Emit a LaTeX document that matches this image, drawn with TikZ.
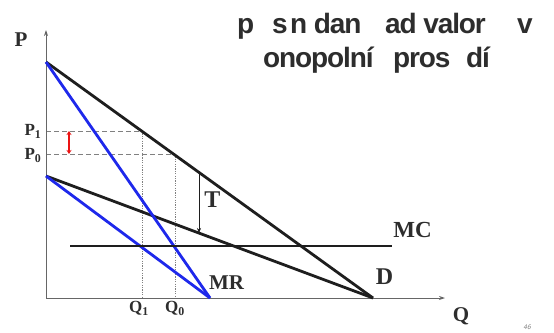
\documentclass[tikz,border=0pt]{standalone}
\usepackage{fontspec}
\setmainfont{Liberation Serif}
\newfontfamily\titlefont[LetterSpace=-4]{Liberation Sans}
\usetikzlibrary{arrows.meta}
\definecolor{lbl}{RGB}{45,45,45}
\definecolor{curve}{RGB}{30,30,30}
\definecolor{bluec}{RGB}{30,40,235}
\definecolor{redc}{RGB}{235,20,20}
\begin{document}
\begin{tikzpicture}[x=1pt,y=-1pt,
  ttl/.style={anchor=base west,inner sep=0pt,text=lbl,font=\titlefont\bfseries\fontsize{28}{30}\selectfont},
  lab/.style={inner sep=0pt,text=lbl,font=\bfseries\fontsize{23}{25}\selectfont},
  sublab/.style={inner sep=0pt,text=lbl,font=\bfseries\fontsize{17}{19}\selectfont},
  thick curve/.style={draw=curve,line width=2.8pt},
  blue curve/.style={draw=bluec,line width=2.8pt},
  axis/.style={draw=gray!80!black,line width=0.9pt,-{Stealth[length=6pt,width=4pt]}},
  guide/.style={draw=gray,line width=0.7pt,dash pattern=on 5pt off 3pt},
  vguide/.style={draw=gray,line width=0.7pt,dash pattern=on 1.2pt off 1.2pt}]
\useasboundingbox (0,0) rectangle (554,332);
% coordinates
\coordinate (O) at (46,298);
\coordinate (Ytop) at (46,30);
\coordinate (Xend) at (445,298);
\coordinate (A) at (46,62);
\coordinate (B) at (46,176);
\coordinate (Dend) at (373,298);
\coordinate (MRend) at (210,298);
\coordinate (MCa) at (70,246);
\coordinate (MCb) at (392,246);
\coordinate (P1) at (46,131);
\coordinate (P0) at (46,154);
\coordinate (E1) at (142,131);
\coordinate (E0) at (175,154);
\coordinate (Q1) at (142,298);
\coordinate (Q0) at (175,298);
\coordinate (R1) at (69,131);
\coordinate (R0) at (69,154);
\coordinate (T1) at (199,172.5);
\coordinate (T0) at (199,233);
% title
\node[ttl] (t1) at (237,33) {p};
\node[ttl] (t2) at (272,33) {s};
\node[ttl] (t3) at (290,33) {n dan};
\node[ttl] (t4) at (385,33) {ad valor};
\node[ttl] (t5) at (517,33) {v};
\node[ttl] (t6) at (263,67) {onopolní};
\node[ttl] (t7) at (393,67) {pros};
\node[ttl] (t8) at (466,67) {dí};
% guides
\draw[guide] (P1) -- (E1);
\draw[guide] (P0) -- (E0);
\draw[vguide] (E1) -- (Q1);
\draw[vguide] (E0) -- (Q0);
% axes
\draw[axis] (O) -- (Ytop);
\draw[axis] (O) -- (Xend);
% curves
\draw[thick curve] (A) -- (Dend);
\draw[thick curve] (B) -- (Dend);
\draw[blue curve] (A) -- (MRend);
\draw[blue curve] (B) -- (MRend);
\draw[thick curve] (MCa) -- (MCb);
% tax arrow
\draw[draw=curve,line width=0.6pt,-{Stealth[length=5pt,width=4pt]}] (T1) -- (T0);
% red arrow
\draw[draw=redc,line width=2pt,{Stealth[length=4pt,width=5pt]}-{Stealth[length=4pt,width=5pt]}] (R1) -- (R0);
% labels
\node[lab,font=\bfseries\fontsize{21}{23}\selectfont] (lP) at (21,40) {P};
\node[lab,font=\bfseries\fontsize{21}{23}\selectfont] (lQ) at (461,316) {Q};
\node[sublab] (lP1) at (33,131.5) {P$_{\mathbf 1}$};
\node[sublab] (lP0) at (33,155.5) {P$_{\mathbf 0}$};
\node[sublab] (lQ1) at (139,308.5) {Q$_{\mathbf 1}$};
\node[sublab] (lQ0) at (175,308.5) {Q$_{\mathbf 0}$};
\node[lab,font=\bfseries\fontsize{24}{26}\selectfont] (lT) at (212.5,200) {T};
\node[lab] (lMC) at (412.5,229.5) {MC};
\node[lab,font=\bfseries\fontsize{24}{26}\selectfont] (lD) at (384.5,277) {D};
\node[lab,font=\bfseries\fontsize{21}{23}\selectfont] (lMR) at (226.5,283) {MR};
\node[inner sep=0pt,text=gray,font=\sffamily\itshape\fontsize{7}{8}\selectfont] (pg) at (527,327.5) {46};
\end{tikzpicture}
\end{document}
